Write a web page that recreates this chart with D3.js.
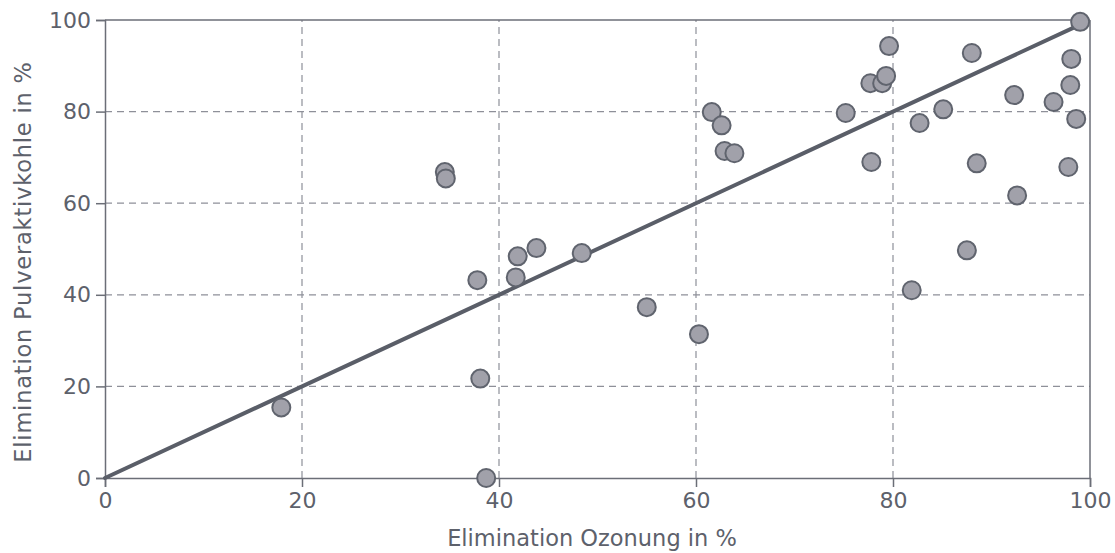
<!DOCTYPE html>
<html>
<head>
<meta charset="utf-8">
<script src="https://cdn.jsdelivr.net/npm/d3@7"></script>
<style>
  body { margin: 0; background: #fff; }
  text { font-family: "DejaVu Sans", sans-serif; fill: #5d616b; }
</style>
</head>
<body>
<svg id="chart" width="1115" height="553"></svg>
<script>
const svg = d3.select("#chart");

// data
const ozon = [17.9, 34.5, 34.6, 37.8, 38.1, 38.7, 41.7, 41.9, 43.8, 48.4, 55.0, 60.3,
    61.6, 62.6, 62.9, 63.9, 75.2, 77.7, 77.8, 78.9, 79.3, 79.6, 81.9, 82.7, 85.1,
    87.5, 88.0, 88.5, 92.3, 92.6, 96.3, 97.8, 98.0, 98.1, 98.6, 99.0];
const pak = [15.4, 66.8, 65.4, 43.2, 21.7, 0.0, 43.8, 48.4, 50.2, 49.1, 37.3, 31.4,
    79.9, 77.0, 71.4, 70.9, 79.7, 86.2, 69.0, 86.2, 87.8, 94.3, 41.0, 77.5, 80.5,
    49.7, 92.8, 68.7, 83.6, 61.7, 82.1, 67.9, 85.8, 91.5, 78.4, 99.6];
const fitX = [0, 99];
const fitY = [0, 99];
const ticks = [0, 20, 40, 60, 80, 100];

const margin = { left: 105, right: 25, top: 20, bottom: 75 };
const W = 1115, H = 553;

const x = d3.scaleLinear().domain([0, 100]).range([margin.left, W - margin.right]);
const y = d3.scaleLinear().domain([0, 100]).range([H - margin.bottom, margin.top]);

const axisColor = "#6b6e77";
const fontFamily = "'DejaVu Sans', sans-serif";

// grid
svg.append("g").selectAll("line").data(ticks.slice(1, -1)).join("line")
    .attr("x1", d => x(d)).attr("x2", d => x(d))
    .attr("y1", y(0)).attr("y2", y(100))
    .attr("stroke", "#8e9099").attr("stroke-width", 1.2)
    .attr("stroke-dasharray", "7,5");
svg.append("g").selectAll("line").data(ticks.slice(1, -1)).join("line")
    .attr("x1", x(0)).attr("x2", x(100))
    .attr("y1", d => y(d)).attr("y2", d => y(d))
    .attr("stroke", "#8e9099").attr("stroke-width", 1.2)
    .attr("stroke-dasharray", "7,5");

// frame
svg.append("line").attr("x1", x(0)).attr("x2", x(100)).attr("y1", y(100)).attr("y2", y(100))
    .attr("stroke", axisColor).attr("stroke-width", 1.5);
svg.append("line").attr("x1", x(100)).attr("x2", x(100)).attr("y1", y(0)).attr("y2", y(100))
    .attr("stroke", axisColor).attr("stroke-width", 1.5);

// axes
const xAxis = svg.append("g")
    .attr("transform", `translate(0,${y(0)})`)
    .call(d3.axisBottom(x).tickValues(ticks).tickSize(9).tickPadding(5));
const yAxis = svg.append("g")
    .attr("transform", `translate(${x(0)},0)`)
    .call(d3.axisLeft(y).tickValues(ticks).tickSize(9).tickPadding(5));

[xAxis, yAxis].forEach(a => {
    a.select(".domain").attr("stroke", axisColor).attr("stroke-width", 1.5);
    a.selectAll(".tick line").attr("stroke", axisColor).attr("stroke-width", 1.5);
    a.selectAll(".tick text").style("font-size", "22px").attr("fill", "#5d616b")
        .style("font-family", fontFamily);
});

// fit line
svg.append("line")
    .attr("x1", x(fitX[0])).attr("y1", y(fitY[0]))
    .attr("x2", x(fitX[1])).attr("y2", y(fitY[1]))
    .attr("stroke", "#5a5e68").attr("stroke-width", 4)
    .attr("stroke-linecap", "round");

// points
svg.append("g").selectAll("circle").data(ozon).join("circle")
    .attr("cx", d => x(d))
    .attr("cy", (d, i) => y(pak[i]))
    .attr("r", 9)
    .attr("fill", "#a1a1aa")
    .attr("stroke", "#60646e")
    .attr("stroke-width", 2);

// axis titles
svg.append("text")
    .attr("x", 592).attr("y", 546)
    .attr("text-anchor", "middle")
    .style("font-size", "22.5px")
    .text("Elimination Ozonung in %");
svg.append("text")
    .attr("transform", "translate(31,262) rotate(-90)")
    .attr("text-anchor", "middle")
    .style("font-size", "22.5px")
    .style("letter-spacing", "0.8px")
    .text("Elimination Pulveraktivkohle in %");
</script>
</body>
</html>
